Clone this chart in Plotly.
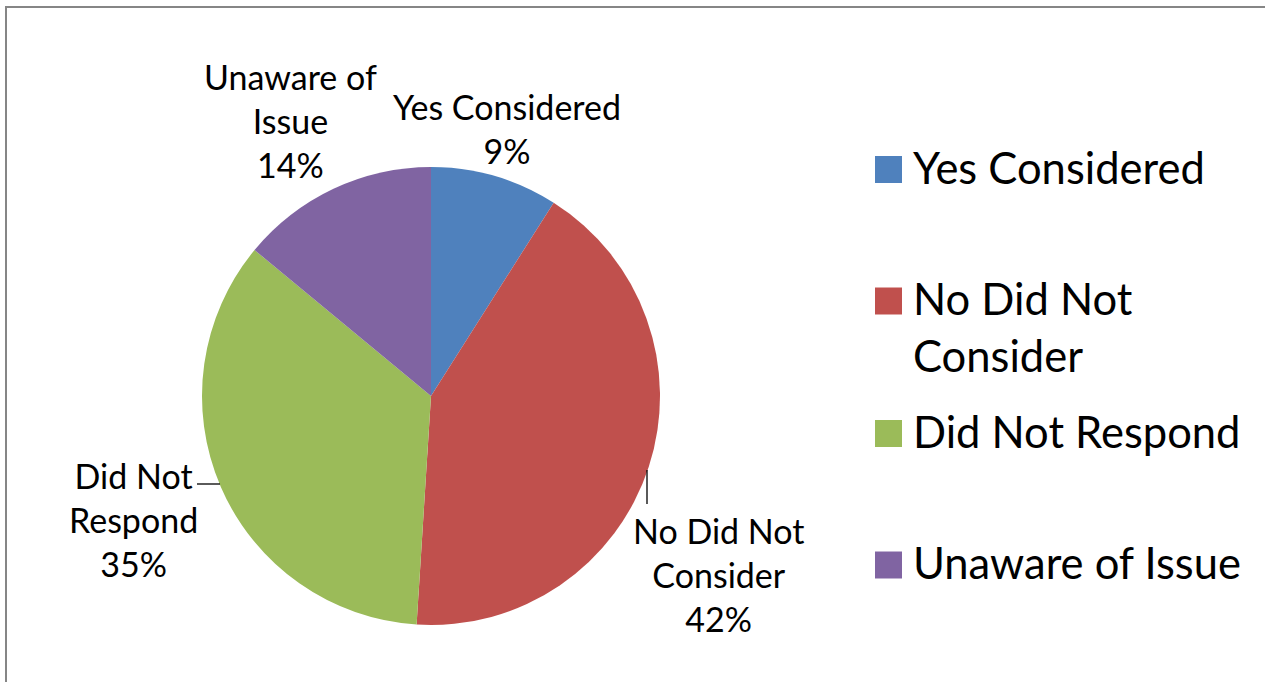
import plotly.graph_objects as go

# ---- data ----
categories = ["Yes Considered", "No Did Not Consider", "Did Not Respond", "Unaware of Issue"]
values = [9, 42, 35, 14]
label_text = ["Yes Considered", "No Did Not<br>Consider", "Did Not<br>Respond", "Unaware of<br>Issue"]
legend_text = ["Yes Considered", "No Did Not<br>Consider", "Did Not Respond", "Unaware of Issue"]
colors = ["#4F81BD", "#C0504D", "#9BBB59", "#8064A2"]

W, H = 1265, 682
FONT = "Lato"


def px(x):
    return x / W


def py(y):
    return 1 - y / H


# pie geometry (pixels)
cx, cy, R = 431, 396, 229

fig = go.Figure()
fig.add_trace(go.Pie(
    labels=categories,
    values=values,
    sort=False,
    direction="clockwise",
    rotation=0,
    marker=dict(colors=colors, line=dict(width=0)),
    textinfo="none",
    hoverinfo="label+percent",
    showlegend=False,
    domain=dict(x=[px(cx - R), px(cx + R)], y=[py(cy + R), py(cy - R)]),
))

total = sum(values)
# data label placements (pixel centers of text blocks)
label_pos = [(507, 128), (718, 574), (133, 519), (290, 120)]
annotations = []
for txt, v, (lx, ly) in zip(label_text, values, label_pos):
    annotations.append(dict(
        x=px(lx), y=py(ly), xref="paper", yref="paper",
        text=f"{txt}<br>{round(100 * v / total)}%",
        showarrow=False, xanchor="center", yanchor="middle", align="center",
        font=dict(family=FONT, size=34, color="#000000"),
    ))

shapes = [
    # chart frame
    dict(type="rect", xref="paper", yref="paper", x0=px(6), x1=px(1275), y0=py(700), y1=py(7),
         line=dict(color="#868686", width=2), fillcolor="rgba(0,0,0,0)", layer="below"),
    # leader lines
    dict(type="line", xref="paper", yref="paper", x0=px(647), x1=px(647), y0=py(470), y1=py(504),
         line=dict(color="#000000", width=1.3)),
    dict(type="line", xref="paper", yref="paper", x0=px(197), x1=px(220), y0=py(484), y1=py(484),
         line=dict(color="#000000", width=1.3)),
]

# manual legend
leg_sq_y = [169.5, 301, 433.5, 565]
for txt, col, sy in zip(legend_text, colors, leg_sq_y):
    shapes.append(dict(type="rect", xref="paper", yref="paper",
                       x0=px(875), x1=px(902), y0=py(sy + 13.5), y1=py(sy - 13.5),
                       line=dict(width=0), fillcolor=col))
    annotations.append(dict(
        x=px(911), y=py(sy - 31), xref="paper", yref="paper",
        text=txt, showarrow=False, xanchor="left", yanchor="top", align="left",
        font=dict(family=FONT, size=43.5, color="#000000"),
    ))

fig.update_layout(
    width=W, height=H,
    margin=dict(l=0, r=0, t=0, b=0),
    paper_bgcolor="#FFFFFF",
    plot_bgcolor="#FFFFFF",
    showlegend=False,
    annotations=annotations,
    shapes=shapes,
    font=dict(family=FONT),
)

fig.write_html(
    "out.html",
    config={"displayModeBar": False},
    post_script="document.body.style.margin='0px';document.body.style.overflow='hidden';",
)
